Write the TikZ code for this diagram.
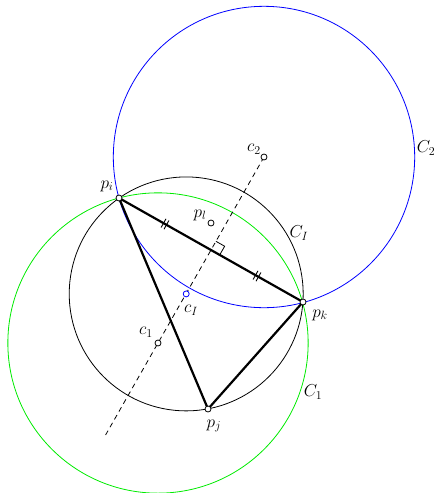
\documentclass[tikz,border=0pt]{standalone}
\usepackage{amsmath}
\usetikzlibrary{calc}
\definecolor{circGreen}{RGB}{0,235,0}
\definecolor{circBlue}{RGB}{0,0,255}
\tikzset{
  dot/.style={circle,draw,fill=white,inner sep=0pt,minimum size=6pt,line width=0.8pt},
  lbl/.style={font=\fontsize{16.5}{19}\selectfont,inner sep=0pt},
  edge/.style={line width=2.2pt,line cap=round},
  thin circle/.style={line width=0.8pt}
}

\begin{document}
\begin{tikzpicture}[x=1pt,y=-1pt]
  \useasboundingbox (0,0) rectangle (434,493);
  % points
  \coordinate (pi) at (119,198);
  \coordinate (pj) at (208,409);
  \coordinate (pk) at (303,302);
  \coordinate (pl) at (211,223);
  \coordinate (cI) at (186.2,293.9);
  \coordinate (c1) at (158,343);
  \coordinate (c2) at (264,157);
  \coordinate (m) at ($(pi)!0.5!(pk)$);
  % circles
  \draw[thin circle] let \p1=($(pi)-(cI)$), \n1={veclen(\x1,\y1)} in (cI) circle[radius=\n1];
  \draw[thin circle,circGreen] let \p1=($(pi)-(c1)$), \n1={veclen(\x1,\y1)} in (c1) circle[radius=\n1];
  \draw[thin circle,circBlue] let \p1=($(pi)-(c2)$), \n1={veclen(\x1,\y1)} in (c2) circle[radius=\n1];
  % bisector
  \draw[thin circle,dash pattern=on 5pt off 4pt] (c2) -- ($(c2)!1.5!(c1)$);
  % right angle
  \coordinate (ma) at ($(m)!10pt!(pk)$);
  \coordinate (mb) at ($(m)!10pt!(c2)$);
  \draw[line width=0.8pt] (ma) -- ($(ma)+(mb)-(m)$) -- (mb);
  % triangle
  \draw[edge] (pi) -- (pk) -- (pj) -- cycle;
  % equal marks
  \foreach \t in {0.25,0.75}{
    \coordinate (tk) at ($(pi)!\t!(pk)$);
    \foreach \s in {-1.7,1.7}{
      \coordinate (ts) at ($(tk)!\s pt!(pk)$);
      \draw[line width=0.9pt] ($(ts)!5pt!90:(pk)$) -- ($(ts)!5pt!-90:(pk)$);
    }
  }
  % markers
  \node[dot] (npi) at (pi) {};
  \node[dot] (npj) at (pj) {};
  \node[dot] (npk) at (pk) {};
  \node[dot] (npl) at (pl) {};
  \node[dot] (nc1) at (c1) {};
  \node[dot] (nc2) at (c2) {};
  \node[dot,draw=circBlue] (ncI) at (cI) {};
  % labels
  \node[lbl] (lpi) at (107,186) {$p_i$};
  \node[lbl] (lpj) at (214,426) {$p_j$};
  \node[lbl] (lpk) at (320,315) {$p_k$};
  \node[lbl] (lpl) at (200,215) {$p_l$};
  \node[lbl] (lc1) at (146,332) {$c_1$};
  \node[lbl] (lc2) at (254,149) {$c_2$};
  \node[lbl] (lcI) at (191,310) {$c_I$};
  \node[lbl] (lCI) at (299,233) {$C_I$};
  \node[lbl] (lC1) at (313,392) {$C_1$};
  \node[lbl] (lC2) at (426,148) {$C_2$};
\end{tikzpicture}
\end{document}
